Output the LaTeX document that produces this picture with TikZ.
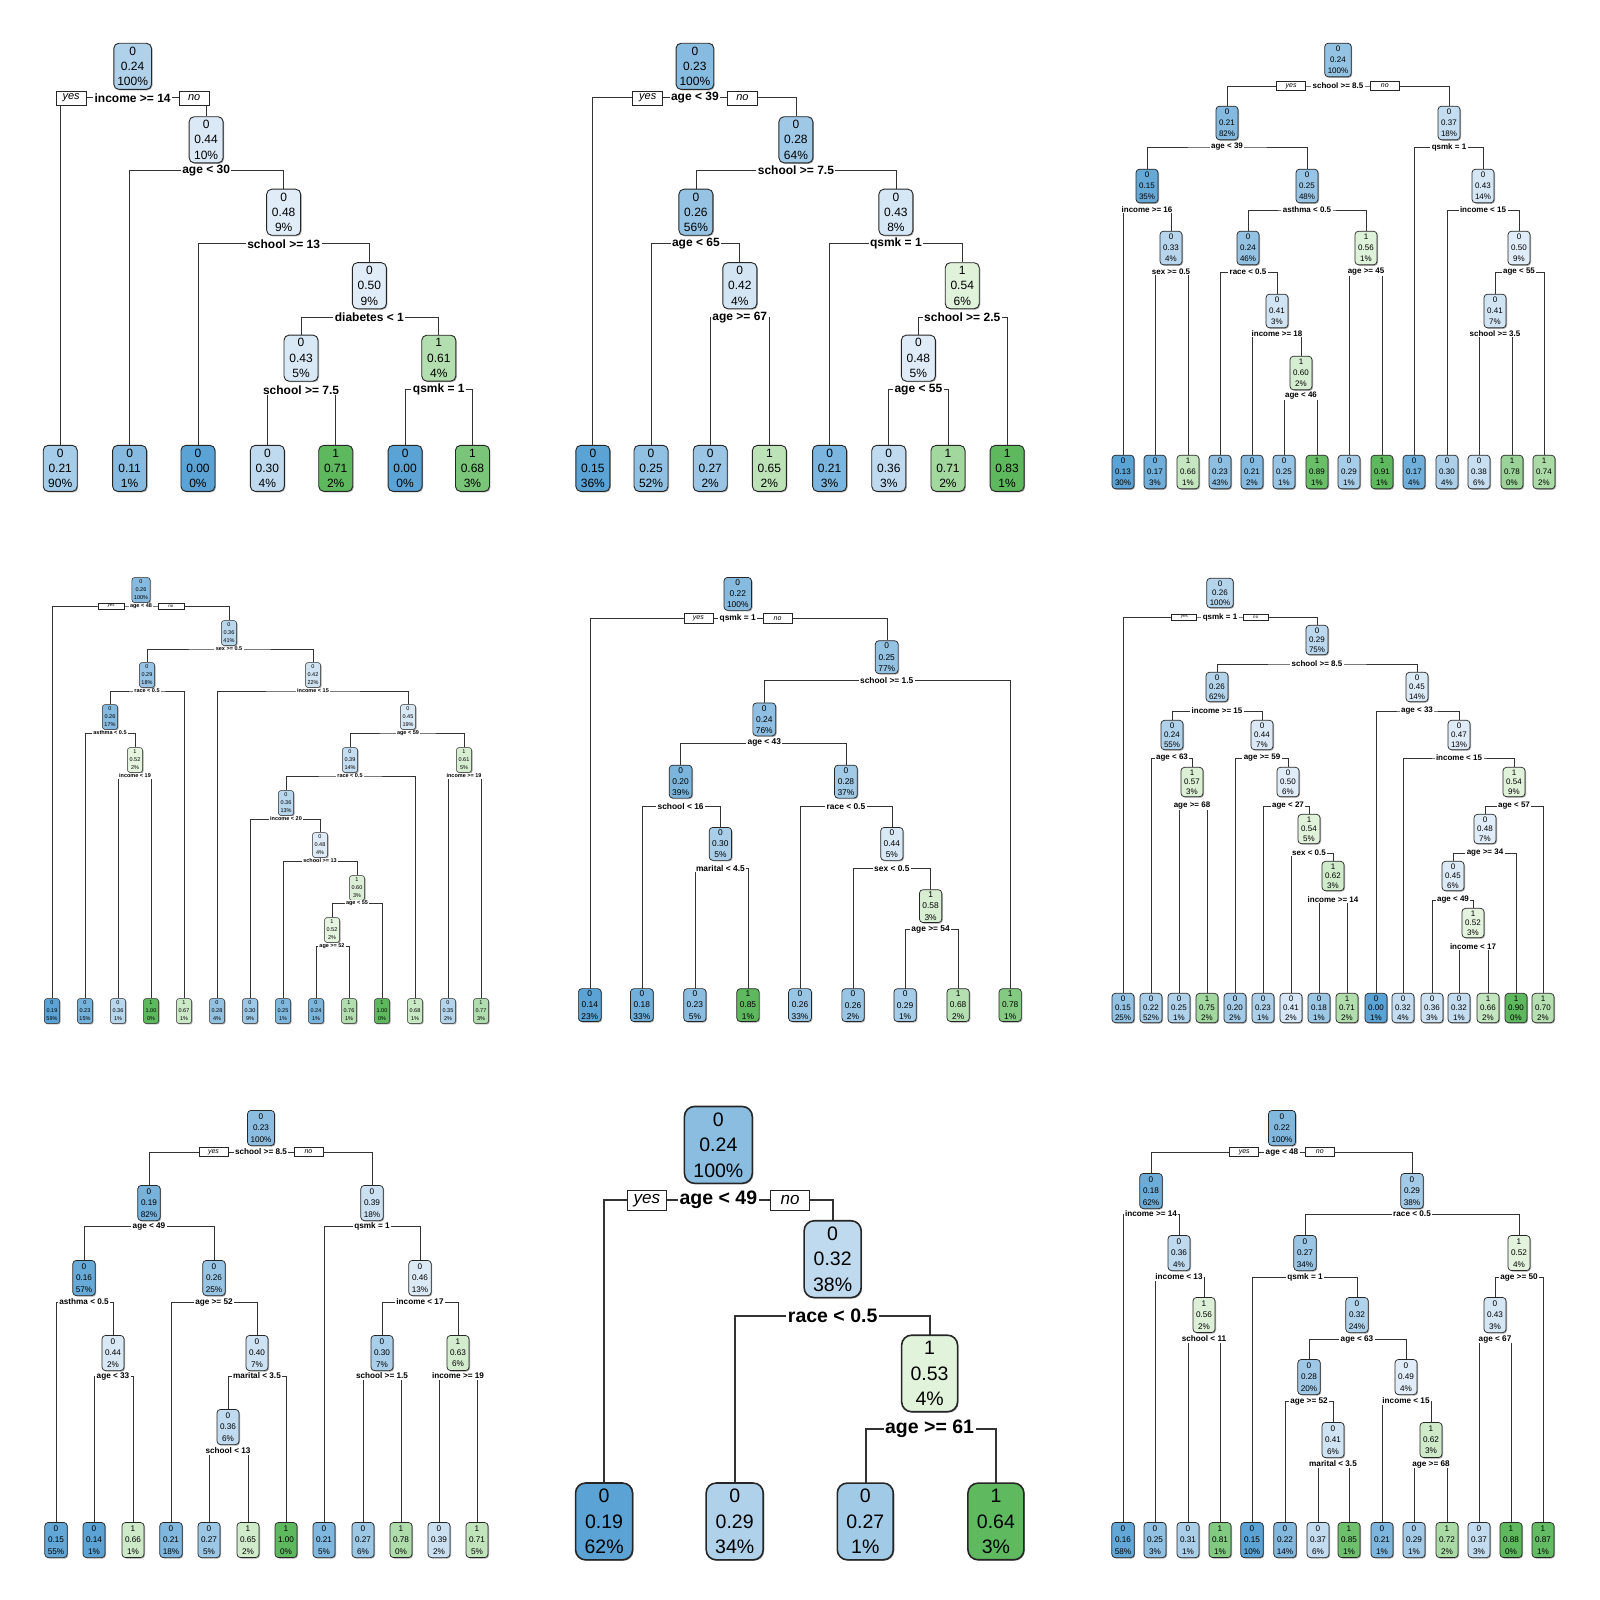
\documentclass[tikz,border=0pt]{standalone}
\usepackage{fontspec}
\setmainfont{Liberation Sans}
\usetikzlibrary{positioning,shadows}

\definecolor{lowblue}{HTML}{5BA3D4}
\definecolor{paleblue}{HTML}{E0ECF7}
\definecolor{higreen}{HTML}{5EB95E}
\definecolor{palegreen}{HTML}{E5F4DF}

\pgfdeclarelayer{paper}
\pgfdeclarelayer{edges}
\pgfsetlayers{paper,edges,main}

\tikzset{
  box/.style={draw=black!85, rounded corners=4pt, align=center, line width=0.8pt,
    drop shadow={shadow xshift=1pt, shadow yshift=-1pt, fill=black!35, opacity=1}},
  splitlab/.style={fill=white, inner xsep=1.5pt, inner ysep=0.5pt, font=\bfseries},
  yesno/.style={draw=black!85, fill=white, inner sep=0pt, line width=0.6pt},
  link/.style={draw=black!80, line width=0.8pt},
  big/.style={node font=\fontsize{12}{15.3}\selectfont, node distance=6.5pt,
    box/.append style={inner xsep=3.5pt, inner ysep=3.5pt, minimum width=34pt, rounded corners=5pt, line width=0.9pt},
    yesno/.append style={minimum width=30pt, minimum height=14pt, font=\fontsize{11}{11}\selectfont\itshape},
    link/.append style={line width=1pt}},
  mid/.style={node font=\fontsize{8.2}{11.2}\selectfont, node distance=5pt,
    box/.append style={inner xsep=3pt, inner ysep=3pt, minimum width=22pt, rounded corners=3.5pt, line width=0.7pt},
    yesno/.append style={minimum width=29pt, minimum height=9.5pt, font=\fontsize{7}{7}\selectfont\itshape},
    link/.append style={line width=0.75pt}},
  small/.style={node font=\fontsize{8}{9.4}\selectfont, node distance=4pt,
    box/.append style={inner xsep=3pt, inner ysep=2.5pt, minimum width=22pt, rounded corners=3.5pt, line width=0.7pt},
    yesno/.append style={minimum width=25pt, minimum height=6pt, font=\fontsize{4.5}{4.5}\selectfont\itshape},
    link/.append style={line width=0.75pt}},
  tiny/.style={node font=\fontsize{5.5}{8}\selectfont, node distance=4pt,
    box/.append style={inner xsep=2pt, inner ysep=2.5pt, minimum width=15pt, rounded corners=2.5pt, line width=0.5pt},
    yesno/.append style={minimum width=26pt, minimum height=6pt, font=\fontsize{4.5}{4.5}\selectfont\itshape},
    link/.append style={line width=0.55pt}},
  huge/.style={node font=\fontsize{19.5}{25.5}\selectfont, node distance=11pt,
    box/.append style={inner xsep=9pt, inner ysep=6pt, rounded corners=10pt, line width=1.6pt},
    yesno/.append style={minimum width=39pt, minimum height=20pt, font=\fontsize{17}{17}\selectfont\itshape, line width=1.2pt},
    link/.append style={line width=2pt}},
}

% nodo: nome, x, y, classe, prob, percentuale
\def\tpow{1.5}
\newcommand\tn[6]{%
  \pgfmathsetmacro\tnt{#4==0 ? (0.5-#5)/(0.5-\tlo) : (#5-0.5)/(\thi-0.5)}%
  \pgfmathtruncatemacro\tnk{100*pow(max(0.01,min(1,\tnt)),\tpow)}%
  \ifnum#4=0 \colorlet{tnfill}{lowblue!\tnk!paleblue}\else\colorlet{tnfill}{higreen!\tnk!palegreen}\fi
  \node[box, fill=tnfill] (#1) at (#2,#3) {#4\\#5\\#6\%};}
\newcommand\cutat[4]{\node[splitlab] (#1) at (#2,#3) {#4};}
\newcommand\linkc[3]{\draw[link] (#1.north) |- (#2.center) -| (#3.north);}

\begin{document}
\begin{tikzpicture}[x=1pt, y=-1pt]
\begin{pgfonlayer}{paper}
  \fill[white] (0,0) rectangle (1600,1600);
\end{pgfonlayer}
\useasboundingbox (0,0) rectangle (1600,1600);

% Albero 1
\begin{scope}[scale=1.0204, big]
  \def\tlo{0}\def\thi{0.71}
  \tn{a1}{130}{65}{0}{0.24}{100}
  \cutat{a1c}{130}{96}{income >= 14}
  \node[yesno, left=of a1c] (a1y) {yes};
  \node[yesno, right=of a1c] (a1n) {no};
  \tn{a3}{202}{137}{0}{0.44}{10}
  \cutat{a3c}{202}{167}{age < 30}
  \tn{a5}{278}{208}{0}{0.48}{9}
  \cutat{a5c}{278}{239}{school >= 13}
  \tn{a7}{362}{280}{0}{0.50}{9}
  \cutat{a7c}{362}{311}{diabetes < 1}
  \tn{a8}{295}{351}{0}{0.43}{5}
  \cutat{a8c}{295}{382}{school >= 7.5}
  \tn{a11}{430}{351}{1}{0.61}{4}
  \cutat{a11c}{430}{382}{qsmk = 1}
  \tn{a2}{59}{459}{0}{0.21}{90}
  \tn{a4}{127}{459}{0}{0.11}{1}
  \tn{a6}{194}{459}{0}{0.00}{0}
  \tn{a9}{262}{459}{0}{0.30}{4}
  \tn{a10}{329}{459}{1}{0.71}{2}
  \tn{a12}{397}{459}{0}{0.00}{0}
  \tn{a13}{463}{459}{1}{0.68}{3}
  \begin{pgfonlayer}{edges}
    \linkc{a2}{a1c}{a3} \linkc{a4}{a3c}{a5} \linkc{a6}{a5c}{a7}
    \linkc{a8}{a7c}{a11} \linkc{a9}{a8c}{a10} \linkc{a12}{a11c}{a13}
  \end{pgfonlayer}
\end{scope}

% Albero 2
\begin{scope}[scale=1.0204, big]
  \def\tlo{0.15}\def\thi{0.83}
  \tn{b1}{681}{65}{0}{0.23}{100}
  \cutat{b1c}{681}{96}{age < 39}
  \node[yesno, left=of b1c] (b1y) {yes};
  \node[yesno, right=of b1c] (b1n) {no};
  \tn{b3}{780}{137}{0}{0.28}{64}
  \cutat{b3c}{780}{167}{school >= 7.5}
  \tn{b4}{682}{208}{0}{0.26}{56}
  \cutat{b4c}{682}{239}{age < 65}
  \tn{b6}{725}{280}{0}{0.42}{4}
  \cutat{b6c}{725}{311}{age >= 67}
  \tn{b9}{878}{208}{0}{0.43}{8}
  \cutat{b9c}{878}{239}{qsmk = 1}
  \tn{b11}{943}{280}{1}{0.54}{6}
  \cutat{b11c}{943}{311}{school >= 2.5}
  \tn{b12}{900}{351}{0}{0.48}{5}
  \cutat{b12c}{900}{382}{age < 55}
  \tn{b2}{581}{459}{0}{0.15}{36}
  \tn{b5}{638}{459}{0}{0.25}{52}
  \tn{b7}{696}{459}{0}{0.27}{2}
  \tn{b8}{754}{459}{1}{0.65}{2}
  \tn{b10}{813}{459}{0}{0.21}{3}
  \tn{b13}{871}{459}{0}{0.36}{3}
  \tn{b14}{929}{459}{1}{0.71}{2}
  \tn{b15}{987}{459}{1}{0.83}{1}
  \begin{pgfonlayer}{edges}
    \linkc{b2}{b1c}{b3} \linkc{b4}{b3c}{b9} \linkc{b5}{b4c}{b6} \linkc{b7}{b6c}{b8}
    \linkc{b10}{b9c}{b11} \linkc{b12}{b11c}{b15} \linkc{b13}{b12c}{b14}
  \end{pgfonlayer}
\end{scope}

% Albero 3
\begin{scope}[mid, node font=\fontsize{8}{11}\selectfont]
  \def\tlo{0.13}\def\thi{0.91}
  \tn{c1}{1338}{60}{0}{0.24}{100}
  \cutat{c1c}{1338}{86}{school >= 8.5}
  \node[yesno, left=of c1c] (c1y) {yes};
  \node[yesno, right=of c1c] (c1n) {no};
  \tn{c2}{1227}{123}{0}{0.21}{82}
  \cutat{c2c}{1227}{147}{age < 39}
  \tn{c3}{1449}{123}{0}{0.37}{18}
  \cutat{c3c}{1449}{147}{qsmk = 1}
  \tn{c4}{1147}{186}{0}{0.15}{35}
  \cutat{c4c}{1147}{210}{income >= 16}
  \tn{c5}{1307}{186}{0}{0.25}{48}
  \cutat{c5c}{1307}{210}{asthma < 0.5}
  \tn{c6}{1483}{186}{0}{0.43}{14}
  \cutat{c6c}{1483}{210}{income < 15}
  \tn{c7}{1171}{248}{0}{0.33}{4}
  \cutat{c7c}{1171}{272}{sex >= 0.5}
  \tn{c8}{1248}{248}{0}{0.24}{46}
  \cutat{c8c}{1248}{272}{race < 0.5}
  \tn{c9}{1366}{248}{1}{0.56}{1}
  \cutat{c9c}{1366}{272}{age >= 45}
  \tn{c10}{1519}{248}{0}{0.50}{9}
  \cutat{c10c}{1519}{272}{age < 55}
  \tn{c11}{1277}{311}{0}{0.41}{3}
  \cutat{c11c}{1277}{334}{income >= 18}
  \tn{c12}{1301}{373}{1}{0.60}{2}
  \cutat{c12c}{1301}{396}{age < 46}
  \tn{c13}{1495}{311}{0}{0.41}{7}
  \cutat{c13c}{1495}{334}{school >= 3.5}
  \tn{c14}{1123}{472}{0}{0.13}{30}
  \tn{c15}{1155}{472}{0}{0.17}{3}
  \tn{c16}{1188}{472}{1}{0.66}{1}
  \tn{c17}{1220}{472}{0}{0.23}{43}
  \tn{c18}{1252}{472}{0}{0.21}{2}
  \tn{c19}{1284}{472}{0}{0.25}{1}
  \tn{c20}{1317}{472}{1}{0.89}{1}
  \tn{c21}{1349}{472}{0}{0.29}{1}
  \tn{c22}{1382}{472}{1}{0.91}{1}
  \tn{c23}{1414}{472}{0}{0.17}{4}
  \tn{c24}{1447}{472}{0}{0.30}{4}
  \tn{c25}{1479}{472}{0}{0.38}{6}
  \tn{c26}{1512}{472}{1}{0.78}{0}
  \tn{c27}{1544}{472}{1}{0.74}{2}
  \begin{pgfonlayer}{edges}
    \linkc{c2}{c1c}{c3} \linkc{c4}{c2c}{c5} \linkc{c23}{c3c}{c6}
    \linkc{c14}{c4c}{c7} \linkc{c15}{c7c}{c16} \linkc{c8}{c5c}{c9}
    \linkc{c17}{c8c}{c11} \linkc{c18}{c11c}{c12} \linkc{c19}{c12c}{c20}
    \linkc{c21}{c9c}{c22} \linkc{c24}{c6c}{c10} \linkc{c13}{c10c}{c27}
    \linkc{c25}{c13c}{c26}
  \end{pgfonlayer}
\end{scope}

% Albero 4
\begin{scope}[tiny]
  \def\tlo{0.19}\def\thi{1.00}
  \tn{d1}{141}{590}{0}{0.26}{100}
  \cutat{d1c}{141}{606}{age < 48}
  \node[yesno, left=of d1c] (d1y) {yes};
  \node[yesno, right=of d1c] (d1n) {no};
  \tn{d3}{229}{633}{0}{0.36}{41}
  \cutat{d3c}{229}{649}{sex >= 0.5}
  \tn{d4}{147}{675}{0}{0.29}{18}
  \cutat{d4c}{147}{691}{race < 0.5}
  \tn{d5}{313}{675}{0}{0.42}{22}
  \cutat{d5c}{313}{691}{income < 15}
  \tn{d6}{110}{717}{0}{0.26}{17}
  \cutat{d6c}{110}{733}{asthma < 0.5}
  \tn{d7}{408}{717}{0}{0.45}{19}
  \cutat{d7c}{408}{733}{age < 59}
  \tn{d8}{135}{760}{1}{0.52}{2}
  \cutat{d8c}{135}{776}{income < 19}
  \tn{d9}{350}{760}{0}{0.39}{14}
  \cutat{d9c}{350}{776}{race < 0.5}
  \tn{d10}{464}{760}{1}{0.61}{5}
  \cutat{d10c}{464}{776}{income >= 19}
  \tn{d11}{286}{803}{0}{0.36}{13}
  \cutat{d11c}{286}{819}{income < 20}
  \tn{d12}{320}{845}{0}{0.48}{4}
  \cutat{d12c}{320}{861}{school >= 13}
  \tn{d13}{357}{888}{1}{0.60}{3}
  \cutat{d13c}{357}{903}{age < 55}
  \tn{d14}{332}{930}{1}{0.52}{2}
  \cutat{d14c}{332}{946}{age >= 52}
  \tn{d2}{52}{1011}{0}{0.19}{59}
  \tn{d15}{85}{1011}{0}{0.23}{15}
  \tn{d16}{118}{1011}{0}{0.36}{1}
  \tn{d17}{151}{1011}{1}{1.00}{0}
  \tn{d18}{184}{1011}{1}{0.67}{1}
  \tn{d19}{217}{1011}{0}{0.28}{4}
  \tn{d20}{250}{1011}{0}{0.30}{9}
  \tn{d21}{283}{1011}{0}{0.25}{1}
  \tn{d22}{316}{1011}{0}{0.24}{1}
  \tn{d23}{349}{1011}{1}{0.76}{1}
  \tn{d24}{382}{1011}{1}{1.00}{0}
  \tn{d25}{415}{1011}{1}{0.68}{1}
  \tn{d26}{448}{1011}{0}{0.35}{2}
  \tn{d27}{481}{1011}{1}{0.77}{3}
  \begin{pgfonlayer}{edges}
    \linkc{d2}{d1c}{d3} \linkc{d4}{d3c}{d5} \linkc{d6}{d4c}{d18}
    \linkc{d15}{d6c}{d8} \linkc{d16}{d8c}{d17} \linkc{d19}{d5c}{d7}
    \linkc{d9}{d7c}{d10} \linkc{d11}{d9c}{d25} \linkc{d20}{d11c}{d12}
    \linkc{d21}{d12c}{d13} \linkc{d14}{d13c}{d24} \linkc{d22}{d14c}{d23}
    \linkc{d26}{d10c}{d27}
  \end{pgfonlayer}
\end{scope}

% Albero 5
\begin{scope}[scale=1.0204, mid, node font=\fontsize{8.4}{11.2}\selectfont, box/.append style={inner ysep=2.3pt}]
  \def\tlo{0.14}\def\thi{0.85}
  \tn{e1}{723}{582}{0}{0.22}{100}
  \cutat{e1c}{723}{606}{qsmk = 1}
  \node[yesno, left=of e1c] (e1y) {yes};
  \node[yesno, right=of e1c] (e1n) {no};
  \tn{e3}{869}{644}{0}{0.25}{77}
  \cutat{e3c}{869}{667}{school >= 1.5}
  \tn{e4}{749}{705}{0}{0.24}{76}
  \cutat{e4c}{749}{728}{age < 43}
  \tn{e6}{667}{766}{0}{0.20}{39}
  \cutat{e6c}{667}{790}{school < 16}
  \tn{e7}{829}{766}{0}{0.28}{37}
  \cutat{e7c}{829}{790}{race < 0.5}
  \tn{e8}{706}{827}{0}{0.30}{5}
  \cutat{e8c}{706}{851}{marital < 4.5}
  \tn{e9}{874}{827}{0}{0.44}{5}
  \cutat{e9c}{874}{851}{sex < 0.5}
  \tn{e10}{912}{888}{1}{0.58}{3}
  \cutat{e10c}{912}{911}{age >= 54}
  \tn{e2}{578}{985}{0}{0.14}{23}
  \tn{e11}{629}{985}{0}{0.18}{33}
  \tn{e12}{681}{985}{0}{0.23}{5}
  \tn{e13}{733}{985}{1}{0.85}{1}
  \tn{e14}{784}{985}{0}{0.26}{33}
  \tn{e15}{836}{985}{0}{0.26}{2}
  \tn{e16}{887}{985}{0}{0.29}{1}
  \tn{e17}{939}{985}{1}{0.68}{2}
  \tn{e5}{990}{985}{1}{0.78}{1}
  \begin{pgfonlayer}{edges}
    \linkc{e2}{e1c}{e3} \linkc{e4}{e3c}{e5} \linkc{e6}{e4c}{e7} \linkc{e11}{e6c}{e8}
    \linkc{e12}{e8c}{e13} \linkc{e14}{e7c}{e9} \linkc{e15}{e9c}{e10} \linkc{e16}{e10c}{e17}
  \end{pgfonlayer}
\end{scope}

% Albero 6
\begin{scope}[small]
  \def\tlo{0.00}\def\thi{0.90}
  \tn{f1}{1220}{593}{0}{0.26}{100}
  \cutat{f1c}{1220}{617}{qsmk = 1}
  \node[yesno, left=of f1c] (f1y) {yes};
  \node[yesno, right=of f1c] (f1n) {no};
  \tn{f2}{1317}{640}{0}{0.29}{75}
  \cutat{f2c}{1317}{664}{school >= 8.5}
  \tn{f3}{1217}{687}{0}{0.26}{62}
  \cutat{f3c}{1217}{711}{income >= 15}
  \tn{f4}{1417}{687}{0}{0.45}{14}
  \cutat{f4c}{1417}{711}{age < 33}
  \tn{f5}{1172}{735}{0}{0.24}{55}
  \cutat{f5c}{1172}{758}{age < 63}
  \tn{f6}{1262}{735}{0}{0.44}{7}
  \cutat{f6c}{1262}{758}{age >= 59}
  \tn{f7}{1459}{735}{0}{0.47}{13}
  \cutat{f7c}{1459}{758}{income < 15}
  \tn{f8}{1192}{782}{1}{0.57}{3}
  \cutat{f8c}{1192}{806}{age >= 68}
  \tn{f9}{1288}{782}{0}{0.50}{6}
  \cutat{f9c}{1288}{806}{age < 27}
  \tn{f10}{1514}{782}{1}{0.54}{9}
  \cutat{f10c}{1514}{806}{age < 57}
  \tn{f11}{1309}{829}{1}{0.54}{5}
  \cutat{f11c}{1309}{853}{sex < 0.5}
  \tn{f12}{1485}{829}{0}{0.48}{7}
  \cutat{f12c}{1485}{853}{age >= 34}
  \tn{f13}{1333}{876}{1}{0.62}{3}
  \cutat{f13c}{1333}{900}{income >= 14}
  \tn{f14}{1453}{876}{0}{0.45}{6}
  \cutat{f14c}{1453}{900}{age < 49}
  \tn{f15}{1473}{923}{1}{0.52}{3}
  \cutat{f15c}{1473}{947}{income < 17}
  \tn{f16}{1123}{1008}{0}{0.15}{25}
  \tn{f17}{1151}{1008}{0}{0.22}{52}
  \tn{f18}{1179}{1008}{0}{0.25}{1}
  \tn{f19}{1207}{1008}{1}{0.75}{2}
  \tn{f20}{1235}{1008}{0}{0.20}{2}
  \tn{f21}{1263}{1008}{0}{0.23}{1}
  \tn{f22}{1291}{1008}{0}{0.41}{2}
  \tn{f23}{1319}{1008}{0}{0.18}{1}
  \tn{f24}{1347}{1008}{1}{0.71}{2}
  \tn{f25}{1376}{1008}{0}{0.00}{1}
  \tn{f26}{1403}{1008}{0}{0.32}{4}
  \tn{f27}{1432}{1008}{0}{0.36}{3}
  \tn{f28}{1459}{1008}{0}{0.32}{1}
  \tn{f29}{1488}{1008}{1}{0.66}{2}
  \tn{f30}{1516}{1008}{1}{0.90}{0}
  \tn{f31}{1543}{1008}{1}{0.70}{2}
  \begin{pgfonlayer}{edges}
    \linkc{f16}{f1c}{f2} \linkc{f3}{f2c}{f4} \linkc{f5}{f3c}{f6}
    \linkc{f17}{f5c}{f8} \linkc{f18}{f8c}{f19} \linkc{f20}{f6c}{f9}
    \linkc{f21}{f9c}{f11} \linkc{f22}{f11c}{f13} \linkc{f23}{f13c}{f24}
    \linkc{f25}{f4c}{f7} \linkc{f26}{f7c}{f10} \linkc{f12}{f10c}{f31}
    \linkc{f14}{f12c}{f30} \linkc{f27}{f14c}{f15} \linkc{f28}{f15c}{f29}
  \end{pgfonlayer}
\end{scope}

% Albero 7
\begin{scope}[mid, box/.append style={inner ysep=3.5pt}]
  \def\tlo{0.14}\def\thi{1.00}
  \tn{g1}{261}{1128}{0}{0.23}{100}
  \cutat{g1c}{261}{1152}{school >= 8.5}
  \node[yesno, left=of g1c] (g1y) {yes};
  \node[yesno, right=of g1c] (g1n) {no};
  \tn{g2}{149}{1203}{0}{0.19}{82}
  \cutat{g2c}{149}{1226}{age < 49}
  \tn{g3}{372}{1203}{0}{0.39}{18}
  \cutat{g3c}{372}{1226}{qsmk = 1}
  \tn{g4}{84}{1278}{0}{0.16}{57}
  \cutat{g4c}{84}{1302}{asthma < 0.5}
  \tn{g5}{214}{1278}{0}{0.26}{25}
  \cutat{g5c}{214}{1302}{age >= 52}
  \tn{g6}{420}{1278}{0}{0.46}{13}
  \cutat{g6c}{420}{1302}{income < 17}
  \tn{g7}{113}{1353}{0}{0.44}{2}
  \cutat{g7c}{113}{1376}{age < 33}
  \tn{g8}{257}{1353}{0}{0.40}{7}
  \cutat{g8c}{257}{1376}{marital < 3.5}
  \tn{g9}{382}{1353}{0}{0.30}{7}
  \cutat{g9c}{382}{1376}{school >= 1.5}
  \tn{g10}{458}{1353}{1}{0.63}{6}
  \cutat{g10c}{458}{1376}{income >= 19}
  \tn{g11}{228}{1427}{0}{0.36}{6}
  \cutat{g11c}{228}{1451}{school < 13}
  \tn{g12}{56}{1540}{0}{0.15}{55}
  \tn{g13}{94}{1540}{0}{0.14}{1}
  \tn{g14}{133}{1540}{1}{0.66}{1}
  \tn{g15}{171}{1540}{0}{0.21}{18}
  \tn{g16}{209}{1540}{0}{0.27}{5}
  \tn{g17}{248}{1540}{1}{0.65}{2}
  \tn{g18}{286}{1540}{1}{1.00}{0}
  \tn{g19}{324}{1540}{0}{0.21}{5}
  \tn{g20}{363}{1540}{0}{0.27}{6}
  \tn{g21}{401}{1540}{1}{0.78}{0}
  \tn{g22}{439}{1540}{0}{0.39}{2}
  \tn{g23}{477}{1540}{1}{0.71}{5}
  \begin{pgfonlayer}{edges}
    \linkc{g2}{g1c}{g3} \linkc{g4}{g2c}{g5} \linkc{g12}{g4c}{g7} \linkc{g13}{g7c}{g14}
    \linkc{g15}{g5c}{g8} \linkc{g11}{g8c}{g18} \linkc{g16}{g11c}{g17} \linkc{g19}{g3c}{g6}
    \linkc{g9}{g6c}{g10} \linkc{g20}{g9c}{g21} \linkc{g22}{g10c}{g23}
  \end{pgfonlayer}
\end{scope}

% Albero 8
\begin{scope}[scale=1.0204, huge]
  \def\tlo{0.19}\def\thi{0.64}\def\tpow{2.5}
  \tn{h1}{704}{1122}{0}{0.24}{100}
  \cutat{h1c}{704}{1176}{age < 49}
  \node[yesno, left=of h1c] (h1y) {yes};
  \node[yesno, right=of h1c] (h1n) {no};
  \tn{h3}{816}{1234}{0}{0.32}{38}
  \cutat{h3c}{816}{1289}{race < 0.5}
  \tn{h5}{911}{1346}{1}{0.53}{4}
  \cutat{h5c}{911}{1400}{age >= 61}
  \tn{h2}{592}{1491}{0}{0.19}{62}
  \tn{h4}{720}{1491}{0}{0.29}{34}
  \tn{h6}{848}{1491}{0}{0.27}{1}
  \tn{h7}{976}{1491}{1}{0.64}{3}
  \begin{pgfonlayer}{edges}
    \linkc{h2}{h1c}{h3} \linkc{h4}{h3c}{h5} \linkc{h6}{h5c}{h7}
  \end{pgfonlayer}
\end{scope}

% Albero 9
\begin{scope}[mid, box/.append style={inner ysep=3.5pt}]
  \def\tlo{0.15}\def\thi{0.88}
  \tn{i1}{1282}{1128}{0}{0.22}{100}
  \cutat{i1c}{1282}{1152}{age < 48}
  \node[yesno, left=of i1c] (i1y) {yes};
  \node[yesno, right=of i1c] (i1n) {no};
  \tn{i2}{1151}{1191}{0}{0.18}{62}
  \cutat{i2c}{1151}{1214}{income >= 14}
  \tn{i3}{1412}{1191}{0}{0.29}{38}
  \cutat{i3c}{1412}{1214}{race < 0.5}
  \tn{i4}{1179}{1253}{0}{0.36}{4}
  \cutat{i4c}{1179}{1277}{income < 13}
  \tn{i5}{1305}{1253}{0}{0.27}{34}
  \cutat{i5c}{1305}{1277}{qsmk = 1}
  \tn{i6}{1519}{1253}{1}{0.52}{4}
  \cutat{i6c}{1519}{1277}{age >= 50}
  \tn{i7}{1204}{1315}{1}{0.56}{2}
  \cutat{i7c}{1204}{1339}{school < 11}
  \tn{i8}{1357}{1315}{0}{0.32}{24}
  \cutat{i8c}{1357}{1339}{age < 63}
  \tn{i9}{1495}{1315}{0}{0.43}{3}
  \cutat{i9c}{1495}{1339}{age < 67}
  \tn{i10}{1309}{1377}{0}{0.28}{20}
  \cutat{i10c}{1309}{1401}{age >= 52}
  \tn{i11}{1406}{1377}{0}{0.49}{4}
  \cutat{i11c}{1406}{1401}{income < 15}
  \tn{i12}{1333}{1440}{0}{0.41}{6}
  \cutat{i12c}{1333}{1464}{marital < 3.5}
  \tn{i13}{1431}{1440}{1}{0.62}{3}
  \cutat{i13c}{1431}{1464}{age >= 68}
  \tn{i14}{1123}{1540}{0}{0.16}{58}
  \tn{i15}{1155}{1540}{0}{0.25}{3}
  \tn{i16}{1188}{1540}{0}{0.31}{1}
  \tn{i17}{1220}{1540}{1}{0.81}{1}
  \tn{i18}{1252}{1540}{0}{0.15}{10}
  \tn{i19}{1285}{1540}{0}{0.22}{14}
  \tn{i20}{1318}{1540}{0}{0.37}{6}
  \tn{i21}{1349}{1540}{1}{0.85}{1}
  \tn{i22}{1382}{1540}{0}{0.21}{1}
  \tn{i23}{1414}{1540}{0}{0.29}{1}
  \tn{i24}{1447}{1540}{1}{0.72}{2}
  \tn{i25}{1479}{1540}{0}{0.37}{3}
  \tn{i26}{1511}{1540}{1}{0.88}{0}
  \tn{i27}{1543}{1540}{1}{0.87}{1}
  \begin{pgfonlayer}{edges}
    \linkc{i2}{i1c}{i3} \linkc{i14}{i2c}{i4} \linkc{i15}{i4c}{i7} \linkc{i16}{i7c}{i17}
    \linkc{i5}{i3c}{i6} \linkc{i18}{i5c}{i8} \linkc{i10}{i8c}{i11} \linkc{i19}{i10c}{i12}
    \linkc{i20}{i12c}{i21} \linkc{i22}{i11c}{i13} \linkc{i23}{i13c}{i24}
    \linkc{i9}{i6c}{i27} \linkc{i25}{i9c}{i26}
  \end{pgfonlayer}
\end{scope}
\end{tikzpicture}
\end{document}
